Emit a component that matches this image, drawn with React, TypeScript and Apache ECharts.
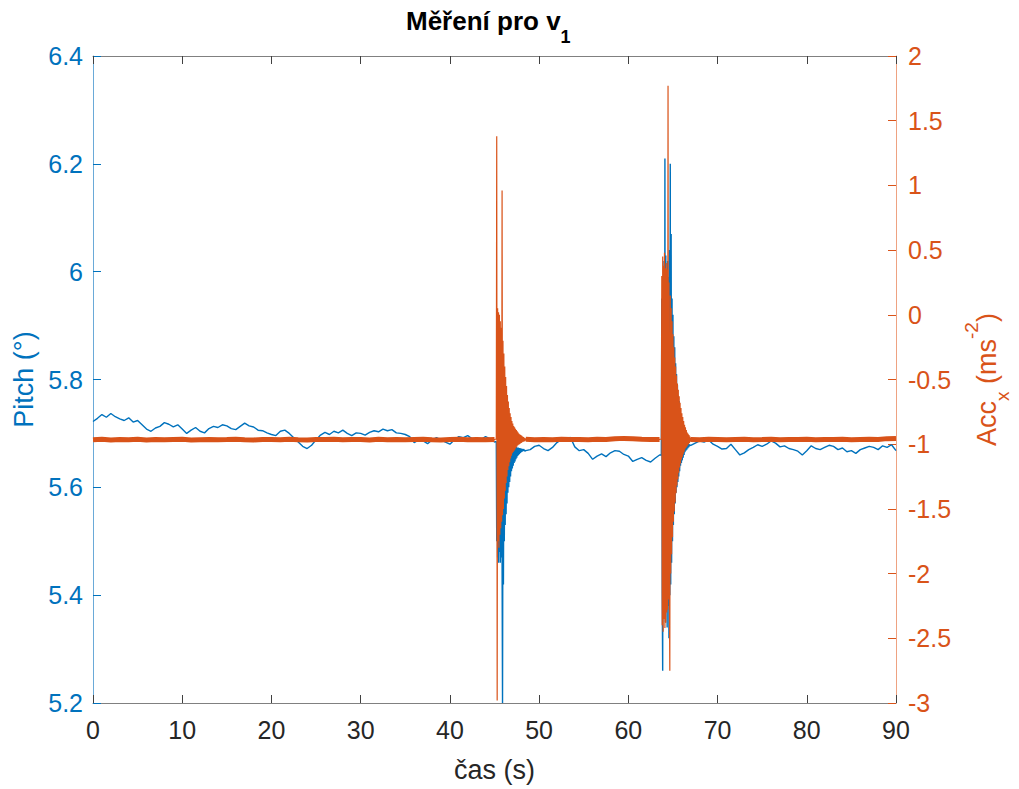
import React, { useEffect, useRef } from 'react';
import * as echarts from 'echarts';

const FONT = '"Liberation Sans", Arial, Helvetica, sans-serif';
const BLUE = '#0072BD';
const ORANGE = '#D95319';

type Seg = { start: number; step: number; values: number[] };

// ---- Pitch (left axis) ----
const pitchSegA: Seg = { start: 0, step: 0.5, values: [
  5.722, 5.728, 5.735, 5.730, 5.737, 5.731, 5.727, 5.724, 5.729, 5.721,
  5.724, 5.716, 5.708, 5.704, 5.710, 5.713, 5.720, 5.717, 5.712, 5.716,
  5.708, 5.700, 5.706, 5.711, 5.704, 5.701, 5.709, 5.713, 5.711, 5.716,
  5.714, 5.709, 5.707, 5.713, 5.719, 5.714, 5.712, 5.706, 5.705, 5.701,
  5.698, 5.696, 5.704, 5.706, 5.700, 5.692, 5.684, 5.676, 5.672, 5.678,
  5.688, 5.697, 5.702, 5.698, 5.704, 5.701, 5.706, 5.700, 5.696, 5.701,
  5.700, 5.697, 5.702, 5.705, 5.703, 5.708, 5.705, 5.707, 5.701, 5.700,
  5.698, 5.694, 5.683, 5.688, 5.686, 5.681, 5.688, 5.692, 5.688, 5.684,
  5.680, 5.688, 5.694, 5.692, 5.696, 5.690, 5.686, 5.689, 5.694, 5.690,
  5.684,
] };
const pitchSegB: Seg = { start: 45.2, step: 0.05, values: [
  5.685, 5.50, 5.66, 5.47, 5.67, 5.46, 5.66, 5.48, 5.67, 5.46,
  5.66, 5.47, 5.65, 5.46, 5.20, 5.66, 5.42, 5.66, 5.50, 5.67,
  5.53, 5.67, 5.55, 5.67, 5.57, 5.675, 5.59, 5.675, 5.60, 5.675,
  5.61, 5.675, 5.62, 5.675, 5.63, 5.675, 5.635, 5.675, 5.64, 5.675,
  5.645, 5.675, 5.648, 5.675, 5.652, 5.675, 5.655, 5.674, 5.658, 5.674,
  5.660, 5.673, 5.662, 5.673, 5.664, 5.672, 5.665, 5.672, 5.666, 5.671,
  5.667, 5.671, 5.668, 5.670, 5.667,
] };
const pitchSegC: Seg = { start: 48.5, step: 0.5, values: [
  5.668, 5.670, 5.676, 5.678, 5.672, 5.668, 5.674, 5.683, 5.689, 5.686,
  5.693, 5.675, 5.668, 5.670, 5.663, 5.652, 5.658, 5.662, 5.657, 5.664,
  5.668, 5.667, 5.661, 5.658, 5.648, 5.652, 5.655, 5.650, 5.647, 5.654,
  5.660,
] };
const pitchSegD: Seg = { start: 63.7, step: 0.05, values: [
  5.660, 5.95, 5.40, 5.26, 5.98, 5.38, 6.02, 5.36, 6.21, 5.35,
  6.03, 5.37, 6.00, 5.34, 6.02, 5.38, 5.99, 5.32, 6.04, 5.40,
  6.20, 5.42, 6.07, 5.46, 5.95, 5.50, 5.92, 5.53, 5.88, 5.55,
  5.86, 5.57, 5.83, 5.59, 5.81, 5.60, 5.79, 5.61, 5.77, 5.62,
  5.76, 5.63, 5.745, 5.64, 5.735, 5.645, 5.725, 5.65, 5.715, 5.655,
  5.708, 5.66, 5.702, 5.665, 5.695, 5.668, 5.690, 5.670, 5.686, 5.672,
  5.683, 5.674, 5.680, 5.676, 5.678, 5.677,
] };
const pitchSegE: Seg = { start: 67, step: 0.5, values: [
  5.678, 5.682, 5.686, 5.684, 5.688, 5.680, 5.676, 5.671, 5.672, 5.680,
  5.670, 5.660, 5.664, 5.670, 5.674, 5.679, 5.676, 5.680, 5.686, 5.682,
  5.675, 5.677, 5.672, 5.670, 5.667, 5.660, 5.668, 5.677, 5.672, 5.670,
  5.674, 5.678, 5.676, 5.670, 5.673, 5.666, 5.668, 5.663, 5.670, 5.673,
  5.676, 5.674, 5.670, 5.677, 5.674, 5.679, 5.668,
] };

// ---- Acc_x (right axis) ----
const accSegA: Seg = { start: 0, step: 1, values: [
  -0.966, -0.962, -0.968, -0.964, -0.965, -0.961, -0.967, -0.963, -0.966, -0.964,
  -0.962, -0.967, -0.965, -0.963, -0.966, -0.964, -0.961, -0.965, -0.967, -0.963,
  -0.964, -0.966, -0.962, -0.965, -0.967, -0.963, -0.964, -0.961, -0.966, -0.964,
  -0.963, -0.967, -0.962, -0.965, -0.964, -0.966, -0.963, -0.961, -0.965, -0.967,
  -0.964, -0.962, -0.966, -0.963, -0.965, -0.964,
] };
const accSegB: Seg = { start: 45.2, step: 0.05, values: [
  -0.96, 1.38, -2.98, 0.05, -1.75, 0.02, -1.80, 0.00, -1.70, -0.05,
  -1.65, -0.10, -1.60, 0.96, -1.55, -0.20, -1.50, -0.30, -1.42, -0.40,
  -1.36, -0.48, -1.30, -0.55, -1.25, -0.62, -1.20, -0.67, -1.17, -0.72,
  -1.14, -0.76, -1.11, -0.79, -1.09, -0.82, -1.07, -0.84, -1.06, -0.86,
  -1.05, -0.87, -1.04, -0.88, -1.03, -0.89, -1.02, -0.90, -1.01, -0.91,
  -1.005, -0.92, -1.00, -0.925, -0.995, -0.93, -0.99, -0.935, -0.985, -0.94,
  -0.98, -0.945, -0.98, -0.95, -0.975, -0.955, -0.97, -0.96,
] };
const accSegC: Seg = { start: 48.5, step: 1, values: [
  -0.962, -0.965, -0.963, -0.966, -0.962, -0.964, -0.963, -0.965, -0.962, -0.964,
  -0.958, -0.955, -0.957, -0.962, -0.964, -0.963,
] };
const accSegD: Seg = { start: 63.7, step: 0.05, values: [
  -0.96, 0.30, -2.40, 0.45, -2.45, 0.38, -2.35, 0.48, -2.42, 0.36,
  -2.38, 0.40, -2.30, 0.35, -2.28, 1.77, -2.20, 0.25, -2.15, -2.75,
  0.15, -2.00, 0.05, -1.85, -0.05, -1.72, -0.15, -1.60, -0.25, -1.52,
  -0.33, -1.45, -0.40, -1.38, -0.47, -1.32, -0.53, -1.27, -0.58, -1.22,
  -0.63, -1.18, -0.68, -1.15, -0.72, -1.12, -0.76, -1.10, -0.79, -1.08,
  -0.82, -1.06, -0.85, -1.04, -0.87, -1.03, -0.89, -1.02, -0.91, -1.01,
  -0.92, -1.00, -0.93, -0.99, -0.94, -0.98, -0.95,
] };
const accSegE: Seg = { start: 67, step: 1, values: [
  -0.963, -0.965, -0.962, -0.964, -0.966, -0.963, -0.962, -0.965, -0.964, -0.961,
  -0.965, -0.963, -0.964, -0.962, -0.966, -0.963, -0.964, -0.962, -0.965, -0.963,
  -0.961, -0.964, -0.957, -0.955,
] };

const titleMain = 'Měření pro v';
const titleSub = '1';
const xName = 'čas (s)';
const leftName = 'Pitch (°)';

const pts = (s: Seg) =>
  s.values.map((v, i) => [Math.round((s.start + i * s.step) * 1000) / 1000, v]);

export default function App() {
  const ref = useRef<HTMLDivElement>(null);
  useEffect(() => {
    if (!ref.current) return;
    document.body.style.margin = '0';
    document.body.style.overflow = 'hidden';
    const chart = echarts.init(ref.current, undefined, { renderer: 'svg', width: 1019, height: 789 });
    const pitchData = [pitchSegA, pitchSegB, pitchSegC, pitchSegD, pitchSegE].flatMap(pts);
    const accThin = [accSegA, accSegB, accSegC, accSegD, accSegE].flatMap(pts);
    const fmt = (v: number) => String(parseFloat(v.toFixed(2)));
    const thick = (s: Seg) => ({
      type: 'line', xAxisIndex: 0, yAxisIndex: 1, data: pts(s), showSymbol: false,
      silent: true, lineStyle: { color: ORANGE, width: 5 }, z: 4,
    });
    chart.setOption({
      animation: false,
      backgroundColor: '#ffffff',
      title: {
        text: `{t|${titleMain}}{s|${titleSub}}`,
        left: 406, top: -4, padding: 0,
        textStyle: {
          rich: {
            t: { fontSize: 26, fontWeight: 'bold', color: '#000', fontFamily: FONT, lineHeight: 50, verticalAlign: 'middle' },
            s: { fontSize: 18, fontWeight: 'bold', color: '#000', fontFamily: FONT, lineHeight: 18, verticalAlign: 'bottom' },
          },
        },
      },
      grid: { left: 93, right: 123, top: 56, bottom: 86, containLabel: false, outerBoundsMode: 'none' },
      xAxis: [
        {
          type: 'value', min: 0, max: 90, interval: 10, position: 'bottom',
          axisLine: { show: true, onZero: false, lineStyle: { color: '#808080', width: 1 } },
          axisTick: { show: true, inside: true, length: 8, lineStyle: { color: '#404040' } },
          axisLabel: { color: '#262626', fontSize: 25, margin: 14, fontFamily: FONT },
          splitLine: { show: false },
          name: xName, nameLocation: 'middle', nameGap: 53,
          nameTextStyle: { fontSize: 27, color: '#262626', fontFamily: FONT },
        },
        {
          type: 'value', min: 0, max: 90, interval: 10, position: 'top',
          axisLine: { show: true, onZero: false, lineStyle: { color: '#808080', width: 1 } },
          axisTick: { show: true, inside: true, length: 8, lineStyle: { color: '#404040' } },
          axisLabel: { show: false },
          splitLine: { show: false },
        },
      ],
      yAxis: [
        {
          type: 'value', min: 5.2, max: 6.4, interval: 0.2, position: 'left',
          axisLine: { show: true, onZero: false, lineStyle: { color: '#6aaad8', width: 1 } },
          axisTick: { show: true, inside: true, length: 8, lineStyle: { color: BLUE } },
          axisLabel: { color: BLUE, fontSize: 25, margin: 10, fontFamily: FONT, formatter: fmt, showMinLabel: true, showMaxLabel: true },
          splitLine: { show: false },
          name: leftName, nameLocation: 'middle', nameGap: 53, nameRotate: 90,
          nameTextStyle: { fontSize: 27, color: BLUE, fontFamily: FONT },
        },
        {
          type: 'value', min: -3, max: 2, interval: 0.5, position: 'right',
          axisLine: { show: true, onZero: false, lineStyle: { color: '#eea281', width: 1 } },
          axisTick: { show: true, inside: true, length: 8, lineStyle: { color: ORANGE } },
          axisLabel: { color: ORANGE, fontSize: 25, margin: 12, fontFamily: FONT, formatter: fmt, showMinLabel: true, showMaxLabel: true },
          splitLine: { show: false },
          name: '{a|Acc}{b|x}{a| (ms}{c|-2}{a|)}', nameLocation: 'middle', nameGap: 64, nameRotate: 90,
          nameTextStyle: {
            color: ORANGE, fontFamily: FONT,
            rich: {
              a: { fontSize: 27, color: ORANGE, fontFamily: FONT, lineHeight: 50, verticalAlign: 'middle' },
              b: { fontSize: 19, color: ORANGE, fontFamily: FONT, lineHeight: 19, verticalAlign: 'bottom' },
              c: { fontSize: 19, color: ORANGE, fontFamily: FONT, lineHeight: 23, verticalAlign: 'top' },
            },
          },
        },
      ],
      series: [
        {
          type: 'line', xAxisIndex: 0, yAxisIndex: 0, data: pitchData, showSymbol: false,
          silent: true, lineStyle: { color: BLUE, width: 1.4 }, z: 2,
        },
        {
          type: 'line', xAxisIndex: 0, yAxisIndex: 1, data: accThin, showSymbol: false,
          silent: true, lineStyle: { color: ORANGE, width: 1.2 }, z: 3,
        },
        thick(accSegA),
        thick(accSegC),
        thick(accSegE),
      ],
    });
    return () => chart.dispose();
  }, []);
  return (
    <div
      ref={ref}
      style={{ position: 'absolute', left: 0, top: 0, width: 1019, height: 789, background: '#fff' }}
    />
  );
}
